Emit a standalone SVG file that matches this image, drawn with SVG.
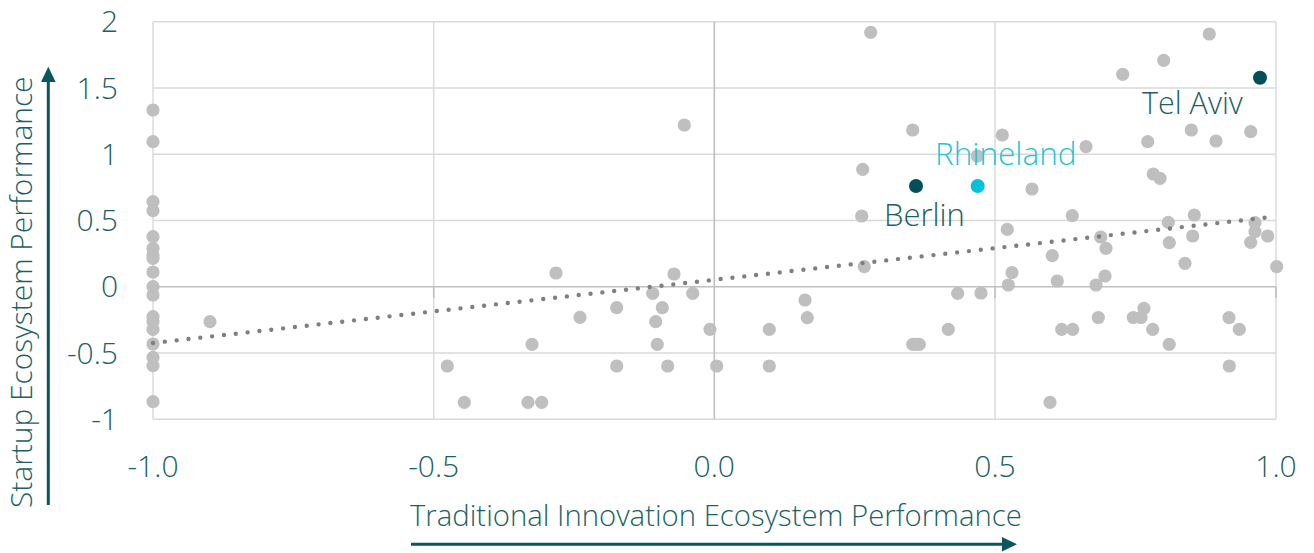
<svg xmlns="http://www.w3.org/2000/svg" width="1314" height="553" viewBox="0 0 1314 553">
<style>
.grid{stroke:#d9d9d9;stroke-width:1.4;fill:none}
.zero{stroke:#c0c0c0;stroke-width:1.6;fill:none}
.lbl{font-family:"Open Sans","Noto Sans",sans-serif;font-weight:300;font-size:30px;fill:#1d5f67}
.ttl{font-family:"Open Sans","Noto Sans",sans-serif;font-weight:300;font-size:29.3px;fill:#1d5f67}
.pt circle{fill:#bfbfbf}
.ax{stroke:#0b555e;stroke-width:3;fill:none}
.ah{fill:#0b555e}
</style>
<rect width="1314" height="553" fill="#ffffff"/>
<g id="grid">
<line class="grid" x1="153" y1="21.7" x2="1276" y2="21.7"/>
<line class="grid" x1="153" y1="88" x2="1276" y2="88"/>
<line class="grid" x1="153" y1="154.3" x2="1276" y2="154.3"/>
<line class="grid" x1="153" y1="220.5" x2="1276" y2="220.5"/>
<line class="grid" x1="153" y1="353" x2="1276" y2="353"/>
<line class="grid" x1="153" y1="419.3" x2="1276" y2="419.3"/>
<line class="grid" x1="153" y1="21.7" x2="153" y2="419.3"/>
<line class="grid" x1="433.7" y1="21.7" x2="433.7" y2="419.3"/>
<line class="grid" x1="995" y1="21.7" x2="995" y2="419.3"/>
<line class="grid" x1="1276" y1="21.7" x2="1276" y2="419.3"/>
<line class="zero" x1="714.3" y1="21.7" x2="714.3" y2="419.3"/>
<line class="zero" x1="153" y1="286.7" x2="1276" y2="286.7"/>
<line class="zero" x1="433.7" y1="286.7" x2="433.7" y2="298"/>
<line class="zero" x1="995" y1="286.7" x2="995" y2="298"/>
<line class="zero" x1="1276" y1="286.7" x2="1276" y2="298"/>
</g>
<g id="yticks" class="lbl" text-anchor="end">
<text x="118" y="32">2</text>
<text x="118" y="98.5">1.5</text>
<text x="118" y="165">1</text>
<text x="118" y="231">0.5</text>
<text x="118" y="297">0</text>
<text x="118" y="363.5">-0.5</text>
<text x="118" y="430">-1</text>
</g>
<g id="xticks" class="lbl" text-anchor="middle">
<text x="153" y="477">-1.0</text>
<text x="433.7" y="477">-0.5</text>
<text x="714.3" y="477">0.0</text>
<text x="995" y="477">0.5</text>
<text x="1276" y="477">1.0</text>
</g>
<g id="points" class="pt">
<circle cx="153" cy="110" r="6.6"/><circle cx="153" cy="141.7" r="6.6"/><circle cx="153" cy="201.7" r="6.6"/><circle cx="153" cy="210.7" r="6.6"/><circle cx="153" cy="236.7" r="6.6"/><circle cx="153" cy="248.3" r="6.6"/><circle cx="153" cy="255" r="6.6"/><circle cx="153" cy="258.3" r="6.6"/><circle cx="153" cy="272" r="6.6"/><circle cx="153" cy="286.7" r="6.6"/><circle cx="153" cy="295" r="6.6"/><circle cx="153" cy="316.7" r="6.6"/><circle cx="153" cy="321.7" r="6.6"/><circle cx="153" cy="329.3" r="6.6"/><circle cx="153" cy="344" r="6.6"/><circle cx="153" cy="357.3" r="6.6"/><circle cx="153" cy="365.7" r="6.6"/><circle cx="153" cy="401.7" r="6.6"/>
<circle cx="210" cy="321.7" r="6.6"/>
<circle cx="870.7" cy="32.3" r="6.6"/><circle cx="684.3" cy="125" r="6.6"/><circle cx="862.7" cy="169.3" r="6.6"/><circle cx="861.7" cy="216" r="6.6"/><circle cx="556" cy="273" r="6.6"/><circle cx="674" cy="274" r="6.6"/><circle cx="864.3" cy="266.7" r="6.6"/>
<circle cx="652.7" cy="293.3" r="6.6"/><circle cx="692.7" cy="293.3" r="6.6"/><circle cx="616.7" cy="307.7" r="6.6"/><circle cx="662.3" cy="307.7" r="6.6"/><circle cx="805" cy="300" r="6.6"/><circle cx="807.3" cy="317.7" r="6.6"/><circle cx="580" cy="317.3" r="6.6"/><circle cx="655.7" cy="321.7" r="6.6"/><circle cx="710" cy="329.3" r="6.6"/><circle cx="769.3" cy="329.3" r="6.6"/><circle cx="532" cy="344.3" r="6.6"/><circle cx="657.3" cy="344.3" r="6.6"/><circle cx="447.3" cy="366" r="6.6"/><circle cx="616.7" cy="366" r="6.6"/><circle cx="667.7" cy="366" r="6.6"/><circle cx="716.7" cy="366" r="6.6"/><circle cx="769.3" cy="366" r="6.6"/><circle cx="464.3" cy="402.3" r="6.6"/><circle cx="528" cy="402.3" r="6.6"/><circle cx="541.7" cy="402.3" r="6.6"/>
<circle cx="1209.3" cy="34" r="6.6"/><circle cx="1163.7" cy="60.3" r="6.6"/><circle cx="1122.7" cy="74.3" r="6.6"/><circle cx="912.7" cy="130" r="6.6"/><circle cx="1002.3" cy="135" r="6.6"/><circle cx="1191.3" cy="130" r="6.6"/><circle cx="1250.7" cy="131.7" r="6.6"/><circle cx="1147.7" cy="141.7" r="6.6"/><circle cx="1216" cy="141" r="6.6"/><circle cx="1086" cy="146.7" r="6.6"/><circle cx="977.3" cy="156" r="6.6"/><circle cx="1153.3" cy="174" r="6.6"/><circle cx="1160" cy="178.3" r="6.6"/><circle cx="1032" cy="189" r="6.6"/><circle cx="1072.3" cy="215.7" r="6.6"/><circle cx="1194.3" cy="215" r="6.6"/><circle cx="1007.3" cy="229.3" r="6.6"/><circle cx="1168.3" cy="222.3" r="6.6"/><circle cx="1255" cy="222.7" r="6.6"/><circle cx="1255" cy="231.7" r="6.6"/><circle cx="1267.7" cy="236" r="6.6"/><circle cx="1250.7" cy="242.3" r="6.6"/><circle cx="1192.7" cy="236" r="6.6"/><circle cx="1169.3" cy="242.7" r="6.6"/><circle cx="1100.7" cy="237" r="6.6"/><circle cx="1106" cy="248.3" r="6.6"/><circle cx="1052.3" cy="255.7" r="6.6"/><circle cx="1185" cy="263.3" r="6.6"/><circle cx="1276.7" cy="266.7" r="6.6"/><circle cx="1012" cy="272.7" r="6.6"/><circle cx="1008.3" cy="285" r="6.6"/><circle cx="1057.3" cy="281" r="6.6"/><circle cx="1105" cy="276" r="6.6"/><circle cx="1096" cy="285" r="6.6"/>
<circle cx="957.7" cy="293.3" r="6.6"/><circle cx="981" cy="293" r="6.6"/><circle cx="948.3" cy="329.3" r="6.6"/><circle cx="912.7" cy="344.3" r="6.6"/><circle cx="916.7" cy="344.3" r="6.6"/><circle cx="919.3" cy="344.3" r="6.6"/><circle cx="1061.7" cy="329.3" r="6.6"/><circle cx="1072.7" cy="329.3" r="6.6"/><circle cx="1098.3" cy="317.5" r="6.6"/><circle cx="1133.3" cy="317.5" r="6.6"/><circle cx="1141" cy="317.5" r="6.6"/><circle cx="1144" cy="308.3" r="6.6"/><circle cx="1152.7" cy="329.3" r="6.6"/><circle cx="1169.2" cy="344.3" r="6.6"/><circle cx="1229" cy="317.7" r="6.6"/><circle cx="1239.3" cy="329.3" r="6.6"/><circle cx="1229.3" cy="366" r="6.6"/><circle cx="1050" cy="402.3" r="6.6"/>
</g>
<g id="connectors">
<line id="trend" x1="153" y1="343" x2="1276" y2="216.5" stroke="#7f7f7f" stroke-width="4.4" stroke-linecap="round" stroke-dasharray="0 11.9"/>
</g>
<g id="berlin">
<circle cx="916" cy="186" r="7" fill="#034f58"/>
<text class="lbl" x="884" y="226" style="font-size:31px">Berlin</text>
</g>
<g id="rhineland">
<circle cx="977.7" cy="186" r="7" fill="#00c2d8"/>
<text class="lbl" x="935" y="165" style="fill:#22c5d9;font-size:31.5px">Rhineland</text>
</g>
<g id="telaviv">
<circle cx="1260" cy="77.7" r="7" fill="#034f58"/>
<text class="lbl" x="1142" y="114" style="font-size:30.5px">Tel Aviv</text>
</g>
<g id="xaxis">
<text class="ttl" x="410" y="526">Traditional Innovation Ecosystem Performance</text>
<line class="ax" x1="411" y1="544.3" x2="1004" y2="544.3"/>
<polygon class="ah" points="1017,544.3 1002,537 1002,551.6"/>
</g>
<g id="yaxis">
<text class="ttl" transform="translate(32,508) rotate(-90)" style="font-size:29.9px">Startup Ecosystem Performance</text>
<line class="ax" x1="48.3" y1="505" x2="48.3" y2="80"/>
<polygon class="ah" points="48.3,66.7 41,82 55.6,82"/>
</g>
</svg>
